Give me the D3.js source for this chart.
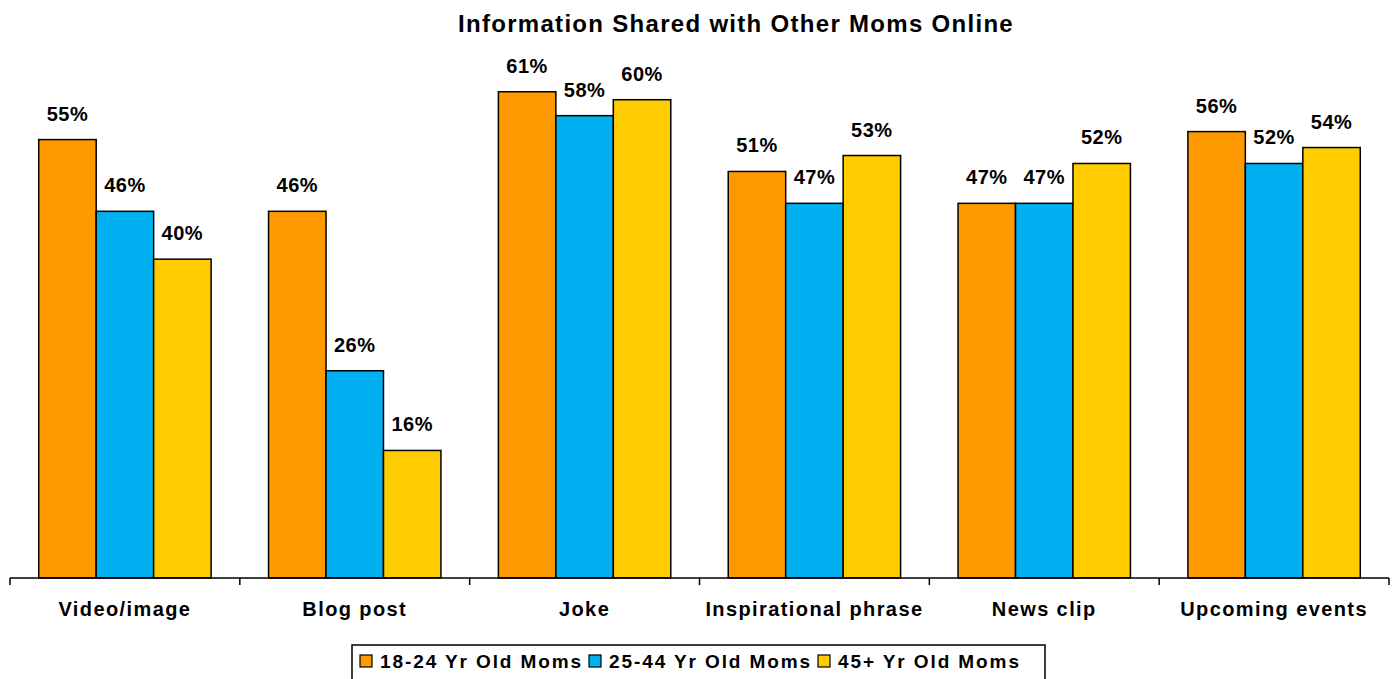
<!DOCTYPE html>
<html>
<head>
<meta charset="utf-8">
<script src="https://cdn.jsdelivr.net/npm/d3@7"></script>
<style>
  body { margin: 0; background: #fff; }
  text { font-family: "Liberation Sans", Arial, sans-serif; font-weight: bold; fill: #000; }
</style>
</head>
<body>
<svg id="chart" width="1394" height="679"></svg>
<script>
var categories = ["Video/image", "Blog post", "Joke", "Inspirational phrase", "News clip", "Upcoming events"];
var seriesNames = ["18-24 Yr Old Moms", "25-44 Yr Old Moms", "45+ Yr Old Moms"];
var moms18to24 = [55, 46, 61, 51, 47, 56];
var moms25to44 = [46, 26, 58, 47, 47, 52];
var moms45plus = [40, 16, 60, 53, 52, 54];
var colors = ["#FF9900", "#00B0F0", "#FFCC00"];

var series = [moms18to24, moms25to44, moms45plus];

var svg = d3.select("#chart"),
    margin = {top: 20, right: 5, bottom: 101, left: 10},
    width = +svg.attr("width") - margin.left - margin.right,
    height = +svg.attr("height") - margin.top - margin.bottom;

var g = svg.append("g").attr("transform", "translate(" + margin.left + "," + margin.top + ")");

var x0 = d3.scaleBand().domain(categories).range([0, width]).paddingInner(0).paddingOuter(0);
var x1 = d3.scaleBand().domain(d3.range(series.length)).range([0, x0.bandwidth()]).paddingOuter(0.5).paddingInner(0);
var y = d3.scaleLinear().domain([0, 70]).range([height, 0]);

svg.append("text")
    .attr("x", 736)
    .attr("y", 32)
    .attr("text-anchor", "middle")
    .style("font-size", "24px")
    .style("letter-spacing", "1.3px")
    .text("Information Shared with Other Moms Online");

var groups = g.selectAll(".group")
    .data(categories)
    .enter().append("g")
    .attr("class", "group")
    .attr("transform", function(d) { return "translate(" + x0(d) + ",0)"; });

groups.selectAll("rect")
    .data(function(d, i) { return series.map(function(s, k) { return {k: k, v: s[i]}; }); })
    .enter().append("rect")
    .attr("x", function(d) { return x1(d.k); })
    .attr("y", function(d) { return y(d.v); })
    .attr("width", x1.bandwidth())
    .attr("height", function(d) { return height - y(d.v); })
    .attr("fill", function(d) { return colors[d.k]; })
    .attr("stroke", "#000")
    .attr("stroke-width", 1.5);

groups.selectAll(".lbl")
    .data(function(d, i) { return series.map(function(s, k) { return {k: k, v: s[i]}; }); })
    .enter().append("text")
    .attr("class", "lbl")
    .attr("x", function(d) { return x1(d.k) + x1.bandwidth() / 2; })
    .attr("y", function(d) { return y(d.v) - 19; })
    .attr("text-anchor", "middle")
    .style("font-size", "20px")
    .style("letter-spacing", "0.5px")
    .text(function(d) { return d.v + "%"; });

// x axis
var axis = g.append("g").attr("transform", "translate(0," + height + ")");
axis.append("line")
    .attr("x1", 0).attr("x2", width)
    .attr("stroke", "#000").attr("stroke-width", 1.5);
axis.selectAll(".tick")
    .data(d3.range(categories.length + 1))
    .enter().append("line")
    .attr("x1", function(i) { return i * x0.bandwidth(); })
    .attr("x2", function(i) { return i * x0.bandwidth(); })
    .attr("y1", 0).attr("y2", 7)
    .attr("stroke", "#000").attr("stroke-width", 1.5);
axis.selectAll(".cat")
    .data(categories)
    .enter().append("text")
    .attr("x", function(d) { return x0(d) + x0.bandwidth() / 2; })
    .attr("y", 38)
    .attr("text-anchor", "middle")
    .style("font-size", "20px")
    .style("letter-spacing", "1.4px")
    .text(function(d) { return d; });

// legend
var legend = svg.append("g");
legend.append("rect")
    .attr("x", 352).attr("y", 645)
    .attr("width", 693).attr("height", 40)
    .attr("fill", "#fff").attr("stroke", "#000").attr("stroke-width", 1.5);
var legX = [360, 589, 818];
seriesNames.forEach(function(name, k) {
    legend.append("rect")
        .attr("x", legX[k]).attr("y", 655)
        .attr("width", 12).attr("height", 12)
        .attr("fill", colors[k]).attr("stroke", "#000").attr("stroke-width", 1.2);
    legend.append("text")
        .attr("x", legX[k] + 20).attr("y", 668)
        .style("font-size", "19px")
        .style("letter-spacing", "1.9px")
        .text(name);
});
</script>
</body>
</html>
